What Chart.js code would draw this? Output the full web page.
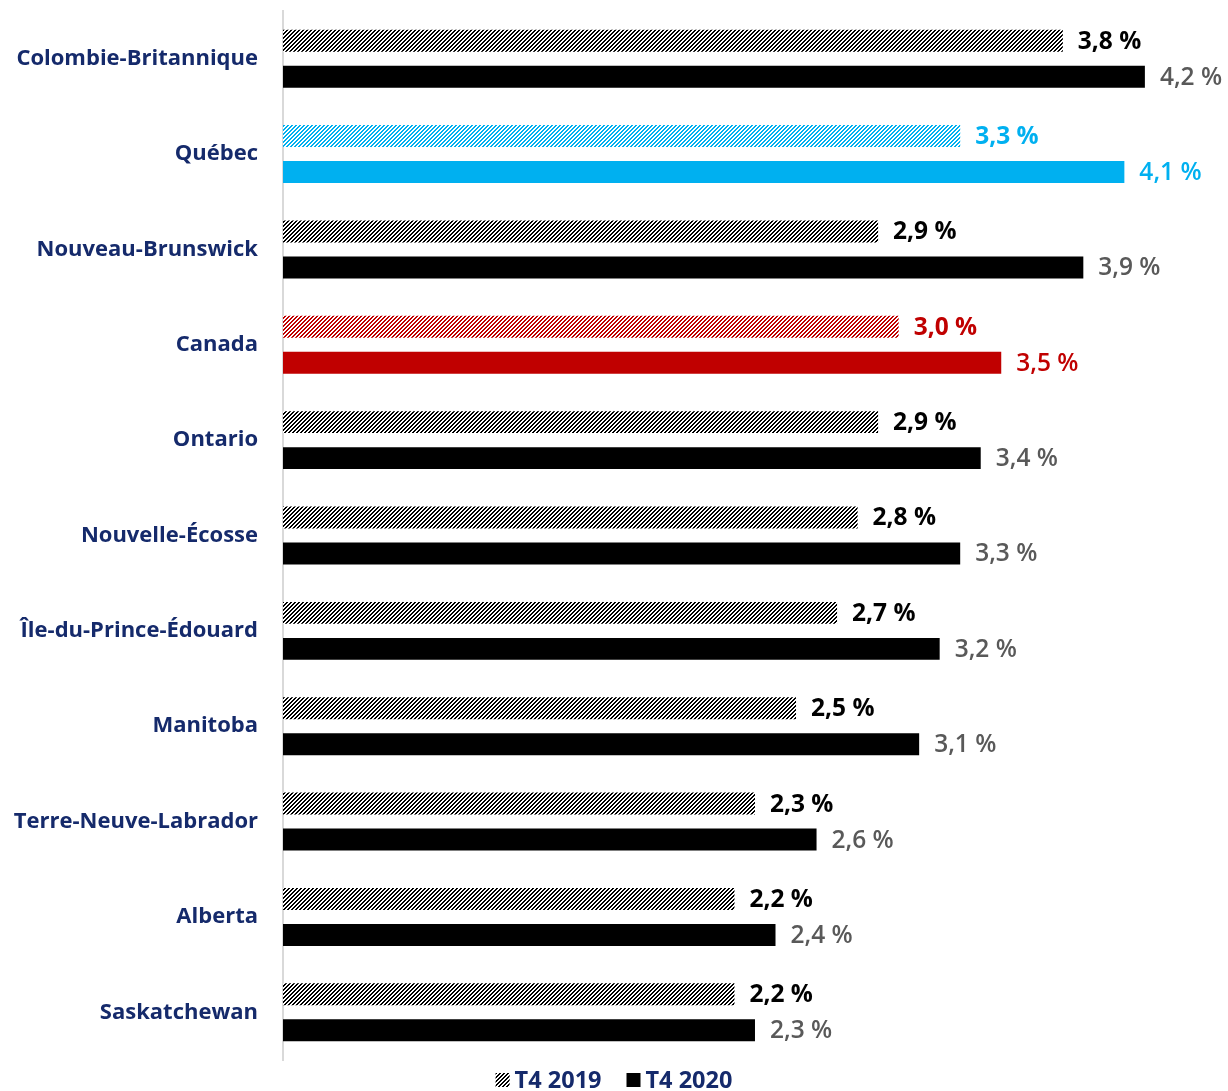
<!DOCTYPE html>
<html>
<head>
<meta charset="utf-8">
<script src="https://cdn.jsdelivr.net/npm/chart.js@4.4.1/dist/chart.umd.min.js"></script>
<style>
  html, body { margin: 0; padding: 0; background: #fff; }
  #wrap { width: 1228px; height: 1091px; }
</style>
</head>
<body>
<div id="wrap"><canvas id="barChart"></canvas></div>
<script>
const categories = ['Colombie-Britannique', 'Québec', 'Nouveau-Brunswick', 'Canada', 'Ontario',
    'Nouvelle-Écosse', 'Île-du-Prince-Édouard', 'Manitoba', 'Terre-Neuve-Labrador', 'Alberta', 'Saskatchewan'];
const values2019 = [3.8, 3.3, 2.9, 3.0, 2.9, 2.8, 2.7, 2.5, 2.3, 2.2, 2.2];
const values2020 = [4.2, 4.1, 3.9, 3.5, 3.4, 3.3, 3.2, 3.1, 2.6, 2.4, 2.3];
const seriesNames = ['T4 2019', 'T4 2020'];

const NAVY = '#152a6b';
const FONT = '"Open Sans"';

function baseColor(i) {
    if (categories[i] === 'Québec') return '#00b0f0';
    if (categories[i] === 'Canada') return '#c00000';
    return '#000000';
}

// small diagonal hatch tile, "/" direction
function hatch(color) {
    const c = document.createElement('canvas');
    c.width = 4; c.height = 4;
    const x = c.getContext('2d');
    x.fillStyle = '#ffffff';
    x.fillRect(0, 0, 4, 4);
    x.fillStyle = color;
    for (let py = 0; py < 4; py++) {
        for (let px = 0; px < 4; px++) {
            if ((px + py) % 4 < 2) x.fillRect(px, py, 1, 1);
        }
    }
    return x.createPattern(c, 'repeat');
}

const hatchColors = categories.map((_, i) => hatch(baseColor(i)));
const solidColors = categories.map((_, i) => baseColor(i));

function fmt(v) {
    return v.toFixed(1).replace('.', ',') + ' %';
}

const valueLabels = {
    id: 'valueLabels',
    afterDatasetsDraw(chart) {
        const ctx = chart.ctx;
        ctx.save();
        ctx.textBaseline = 'middle';
        ctx.textAlign = 'left';
        chart.data.datasets.forEach((ds, di) => {
            const meta = chart.getDatasetMeta(di);
            ctx.font = (di === 0 ? 'bold' : '600') + ' 24.5px ' + FONT;
            meta.data.forEach((bar, i) => {
                let col = baseColor(i);
                if (col === '#000000' && di === 1) col = '#595959';
                ctx.fillStyle = col;
                ctx.fillText(fmt(ds.data[i]), bar.x + 15, bar.y + 1);
            });
        });
        ctx.restore();
    }
};

// legend drawn by hand so the spacing can follow the original
const bottomLegend = {
    id: 'bottomLegend',
    afterDraw(chart) {
        const ctx = chart.ctx;
        ctx.save();
        ctx.font = 'bold 23.5px ' + FONT;
        ctx.textBaseline = 'middle';
        ctx.textAlign = 'left';
        const box = 14, gapBox = 5, gapItem = 25;
        const fills = [hatch('#000000'), '#000000'];
        const widths = seriesNames.map(t => box + gapBox + ctx.measureText(t).width);
        const total = widths.reduce((a, b) => a + b, 0) + gapItem;
        let x = (chart.width - total) / 2;
        const y = 1080;
        seriesNames.forEach((t, i) => {
            ctx.fillStyle = fills[i];
            ctx.fillRect(x, y - box / 2, box, box);
            ctx.fillStyle = NAVY;
            ctx.fillText(t, x + box + gapBox, y + 1);
            x += widths[i] + gapItem;
        });
        ctx.restore();
    }
};

const ctx = document.getElementById('barChart').getContext('2d');
const barChart = new Chart(ctx, {
    type: 'bar',
    data: {
        labels: categories,
        datasets: [
            {
                label: seriesNames[0],
                data: values2019,
                backgroundColor: hatchColors,
                categoryPercentage: 0.755,
                barPercentage: 0.61
            },
            {
                label: seriesNames[1],
                data: values2020,
                backgroundColor: solidColors,
                categoryPercentage: 0.755,
                barPercentage: 0.61
            }
        ]
    },
    options: {
        indexAxis: 'y',
        responsive: true,
        maintainAspectRatio: false,
        animation: false,
        layout: { padding: { top: 11, right: 0, bottom: 31, left: 0 } },
        plugins: {
            tooltip: { enabled: false },
            legend: { display: false }
        },
        scales: {
            x: {
                display: false,
                min: 0,
                max: 4.605
            },
            y: {
                afterFit(scale) {
                    scale.width = 283;
                    scale.paddingTop = 0;
                    scale.paddingBottom = 0;
                },
                grid: { display: false, drawTicks: false },
                border: { display: true, color: '#d9d9d9', width: 2 },
                ticks: {
                    color: NAVY,
                    padding: 25,
                    font: { family: FONT, size: 22, weight: 'bold' }
                }
            }
        }
    },
    plugins: [valueLabels, bottomLegend]
});
</script>
</body>
</html>
